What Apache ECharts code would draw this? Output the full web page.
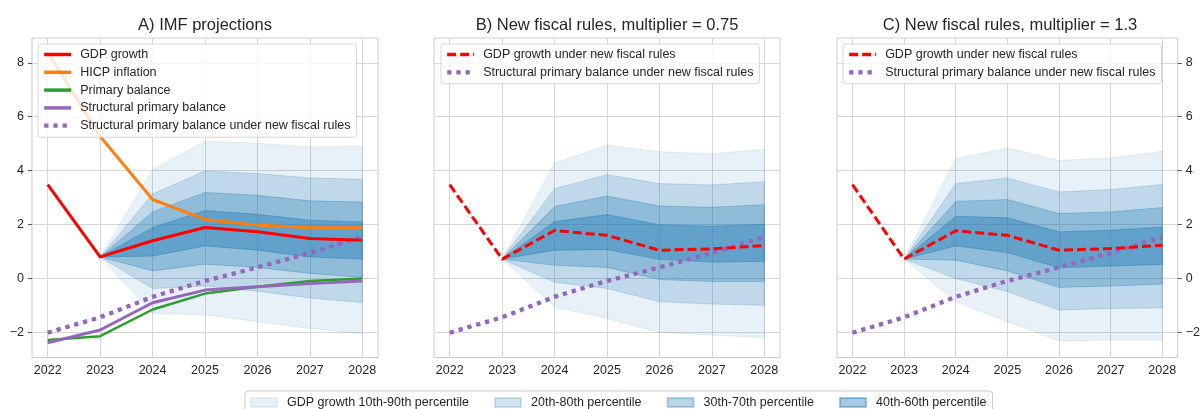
<!DOCTYPE html>
<html><head><meta charset="utf-8">
<script src="https://cdn.jsdelivr.net/npm/echarts@6/dist/echarts.min.js"></script>
<style>html,body{margin:0;padding:0;background:#fff}#c{width:1203px;height:409px}</style>
</head><body><div id="c"></div>
<script>
// ---------- data ----------
const years = [2022, 2023, 2024, 2025, 2026, 2027, 2028];
const fanYears = [2023, 2024, 2025, 2026, 2027, 2028];
const yTicks = [-2, 0, 2, 4, 6, 8];

const gdpGrowth            = [3.48, 0.80, 1.40, 1.89, 1.73, 1.48, 1.42];
const hicpInflation        = [8.40, 5.27, 2.93, 2.19, 1.98, 1.88, 1.88];
const primaryBalance       = [-2.28, -2.14, -1.15, -0.56, -0.31, -0.09, 0.00];
const structPrimaryBalance = [-2.38, -1.91, -0.90, -0.43, -0.31, -0.19, -0.09];
const structPBNewRules     = [-2.01, -1.44, -0.68, -0.09, 0.41, 0.95, 1.54];
const gdpNewRulesB         = [3.48, 0.72, 1.78, 1.60, 1.05, 1.10, 1.22];
const gdpNewRulesC         = [3.48, 0.72, 1.77, 1.60, 1.05, 1.11, 1.23];

// Panel A fan (2023-2028)
const aP10 = [0.80, -1.30, -1.35, -1.60, -1.85, -2.06];
const aP20 = [0.80, -0.37, -0.28, -0.47, -0.72, -0.90];
const aP30 = [0.80, 0.28, 0.53, 0.41, 0.19, 0.04];
const aP40 = [0.80, 0.83, 1.21, 1.05, 0.80, 0.72];
const aP60 = [0.80, 1.89, 2.52, 2.38, 2.16, 2.10];
const aP70 = [0.80, 2.47, 3.19, 3.09, 2.88, 2.84];
const aP80 = [0.80, 3.13, 3.99, 3.89, 3.73, 3.68];
const aP90 = [0.80, 4.04, 5.09, 5.02, 4.88, 4.90];
// Panel B fan
const bP10 = [0.72, -1.06, -1.48, -2.00, -2.10, -2.19];
const bP20 = [0.72, -0.14, -0.37, -0.86, -0.95, -0.99];
const bP30 = [0.72, 0.49, 0.41, -0.04, -0.11, -0.11];
const bP40 = [0.72, 1.05, 1.07, 0.71, 0.61, 0.63];
const bP60 = [0.72, 2.11, 2.37, 1.99, 1.94, 2.01];
const bP70 = [0.72, 2.67, 3.06, 2.69, 2.64, 2.74];
const bP80 = [0.72, 3.33, 3.85, 3.52, 3.47, 3.59];
const bP90 = [0.72, 4.27, 4.94, 4.70, 4.63, 4.79];
// Panel C fan
const cP10 = [0.72, -0.86, -1.60, -2.31, -2.28, -2.28];
const cP20 = [0.72, 0.00, -0.49, -1.17, -1.11, -1.09];
const cP30 = [0.72, 0.68, 0.28, -0.33, -0.28, -0.21];
const cP40 = [0.72, 1.21, 0.96, 0.40, 0.46, 0.52];
const cP60 = [0.72, 2.31, 2.25, 1.73, 1.79, 1.91];
const cP70 = [0.72, 2.86, 2.93, 2.41, 2.47, 2.63];
const cP80 = [0.72, 3.52, 3.73, 3.21, 3.30, 3.49];
const cP90 = [0.72, 4.44, 4.84, 4.38, 4.47, 4.72];

const titles = ['A) IMF projections', 'B) New fiscal rules, multiplier = 0.75', 'C) New fiscal rules, multiplier = 1.3'];
const bandNames = ['GDP growth 10th-90th percentile', '20th-80th percentile', '30th-70th percentile', '40th-60th percentile'];
const N_GDP = 'GDP growth', N_HICP = 'HICP inflation', N_PB = 'Primary balance',
      N_SPB = 'Structural primary balance', N_SPBN = 'Structural primary balance under new fiscal rules',
      N_GDPN = 'GDP growth under new fiscal rules';

// ---------- layout / style ----------
const FONT = '"Liberation Sans", Arial, sans-serif';
const TXT = '#262626';
const gridLefts = [32, 434, 837];
const gridW = 346, gridTop = 38, gridH = 319.5;
const bandAlpha = [0.1, 0.2, 0.3, 0.4];
const RED = '#ff0000', ORANGE = '#ff7f0e', GREEN = '#2ca02c', PURPLE = '#9467bd';
const DOT = [4.3, 4.9], DASH = [9, 4];

function pairs(xs, ys) { return xs.map((x, i) => [x, ys[i]]); }

function bandSeries(name, lo, hi, k, gi) {
  const col = 'rgba(31,119,180,' + bandAlpha[k] + ')';
  return {
    type: 'custom', name: name, xAxisIndex: gi, yAxisIndex: gi, z: 1, silent: true,
    itemStyle: { color: col, borderColor: col, borderWidth: 1 },
    encode: { x: 0, y: [1, 2] },
    data: fanYears.map((y, i) => [y, lo[i], hi[i]]),
    renderItem: function (params, api) {
      if (params.dataIndexInside !== 0) return null;
      const n = params.dataInsideLength;
      const top = [], bot = [];
      for (let i = 0; i < n; i++) {
        top.push(api.coord([api.value(0, i), api.value(2, i)]));
        bot.push(api.coord([api.value(0, i), api.value(1, i)]));
      }
      return { type: 'polygon', shape: { points: top.concat(bot.reverse()) },
               style: { fill: col, stroke: col, lineWidth: 1 } };
    }
  };
}

function lineSeries(name, ys, gi, color, width, dash, z) {
  return {
    type: 'line', name: name, xAxisIndex: gi, yAxisIndex: gi, z: z, silent: true,
    data: pairs(years, ys), symbol: 'none', color: color,
    lineStyle: { color: color, width: width, type: dash || 'solid', cap: 'butt', join: 'round' },
    itemStyle: { color: color }
  };
}

const fans = [
  [aP10, aP20, aP30, aP40, aP60, aP70, aP80, aP90],
  [bP10, bP20, bP30, bP40, bP60, bP70, bP80, bP90],
  [cP10, cP20, cP30, cP40, cP60, cP70, cP80, cP90]
];

const series = [];
fans.forEach((f, gi) => {
  series.push(bandSeries(bandNames[0], f[0], f[7], 0, gi));
  series.push(bandSeries(bandNames[1], f[1], f[6], 1, gi));
  series.push(bandSeries(bandNames[2], f[2], f[5], 2, gi));
  series.push(bandSeries(bandNames[3], f[3], f[4], 3, gi));
});
// Panel A
series.push(lineSeries(N_SPBN, structPBNewRules, 0, PURPLE, 4.3, DOT, 2));
series.push(lineSeries(N_PB, primaryBalance, 0, GREEN, 2.5, null, 2));
series.push(lineSeries(N_SPB, structPrimaryBalance, 0, PURPLE, 3, null, 2));
series.push(lineSeries(N_HICP, hicpInflation, 0, ORANGE, 3, null, 2));
series.push(lineSeries(N_GDP, gdpGrowth, 0, RED, 3, null, 3));
// Panel B
series.push(lineSeries(N_SPBN, structPBNewRules, 1, PURPLE, 4.3, DOT, 2));
series.push(lineSeries(N_GDPN, gdpNewRulesB, 1, RED, 3, DASH, 3));
// Panel C
series.push(lineSeries(N_SPBN, structPBNewRules, 2, PURPLE, 4.3, DOT, 2));
series.push(lineSeries(N_GDPN, gdpNewRulesC, 2, RED, 3, DASH, 3));

const grids = gridLefts.map(l => ({
  left: l, top: gridTop, width: gridW, height: gridH,
  show: true, borderColor: '#cccccc', borderWidth: 1, backgroundColor: 'transparent'
}));

const xAxes = gridLefts.map((l, gi) => ({
  type: 'value', gridIndex: gi, min: 2021.7, max: 2028.3,
  axisLine: { show: false },
  axisTick: { show: false, customValues: years },
  axisLabel: { customValues: years, formatter: v => String(v), color: TXT, fontSize: 12.5, fontFamily: FONT, margin: 7 },
  splitLine: { show: true, lineStyle: { color: '#d6d6d6', width: 1 } }
}));

const fmtY = v => (v < 0 ? '\u2212' + Math.abs(v) : String(v));
const yAxes = gridLefts.map((l, gi) => ({
  type: 'value', gridIndex: gi, min: -2.93, max: 8.92,
  position: gi === 2 ? 'right' : 'left',
  axisLine: { show: false },
  axisTick: { show: gi !== 1, length: 4, customValues: yTicks, lineStyle: { color: '#555555', width: 1 } },
  axisLabel: { show: gi !== 1, customValues: yTicks, formatter: fmtY, color: TXT, fontSize: 12.5, fontFamily: FONT, margin: 8 },
  splitLine: { show: true, lineStyle: { color: '#d6d6d6', width: 1 } }
}));

const legendStyles = {};
legendStyles[N_GDP]  = { color: RED, width: 3.5, type: 'solid' };
legendStyles[N_HICP] = { color: ORANGE, width: 3.5, type: 'solid' };
legendStyles[N_PB]   = { color: GREEN, width: 3.5, type: 'solid' };
legendStyles[N_SPB]  = { color: PURPLE, width: 3.5, type: 'solid' };
legendStyles[N_SPBN] = { color: PURPLE, width: 4.3, type: DOT };
legendStyles[N_GDPN] = { color: RED, width: 3.5, type: DASH };

const panelLegend = (names, left) => ({
  data: names.map(n => ({ name: n, lineStyle: Object.assign({ cap: 'butt' }, legendStyles[n]) })),
  orient: 'vertical', left: left, top: 44, selectedMode: false, z: 10,
  itemWidth: 27, itemHeight: 12, itemGap: 4.8,
  padding: [4, 6, 5, 4],
  backgroundColor: 'rgba(255,255,255,0.8)', borderColor: 'rgba(204,204,204,0.8)', borderWidth: 1, borderRadius: 3,
  itemStyle: { opacity: 0 },
  textStyle: { color: TXT, fontSize: 12.5, fontFamily: FONT, lineHeight: 12, padding: [0, 0, 0, 4] }
});

const option = {
  animation: false,
  textStyle: { fontFamily: FONT },
  grid: grids, xAxis: xAxes, yAxis: yAxes,
  legend: [
    panelLegend([N_GDP, N_HICP, N_PB, N_SPB, N_SPBN], 38),
    panelLegend([N_GDPN, N_SPBN], 441),
    panelLegend([N_GDPN, N_SPBN], 843),
    {
      data: bandNames.map(n => ({ name: n, icon: 'rect' })), orient: 'horizontal', left: 245, top: 391, selectedMode: false, z: 10,
      itemWidth: 26, itemHeight: 9, itemGap: 25, padding: [5, 6, 10, 5],
      backgroundColor: '#ffffff', borderColor: '#cccccc', borderWidth: 1, borderRadius: 3,
      textStyle: { color: TXT, fontSize: 12.5, fontFamily: FONT, padding: [0, 0, 0, 5] }
    }
  ],
  graphic: titles.map((t, i) => ({
    type: 'text', x: gridLefts[i] + gridW / 2, y: 25,
    style: { text: t, fill: TXT, fontSize: 16.5, fontFamily: FONT, align: 'center', verticalAlign: 'middle' }
  })),
  series: series
};

const chart = echarts.init(document.getElementById('c'), null, { renderer: 'canvas' });
chart.setOption(option);
</script></body></html>
